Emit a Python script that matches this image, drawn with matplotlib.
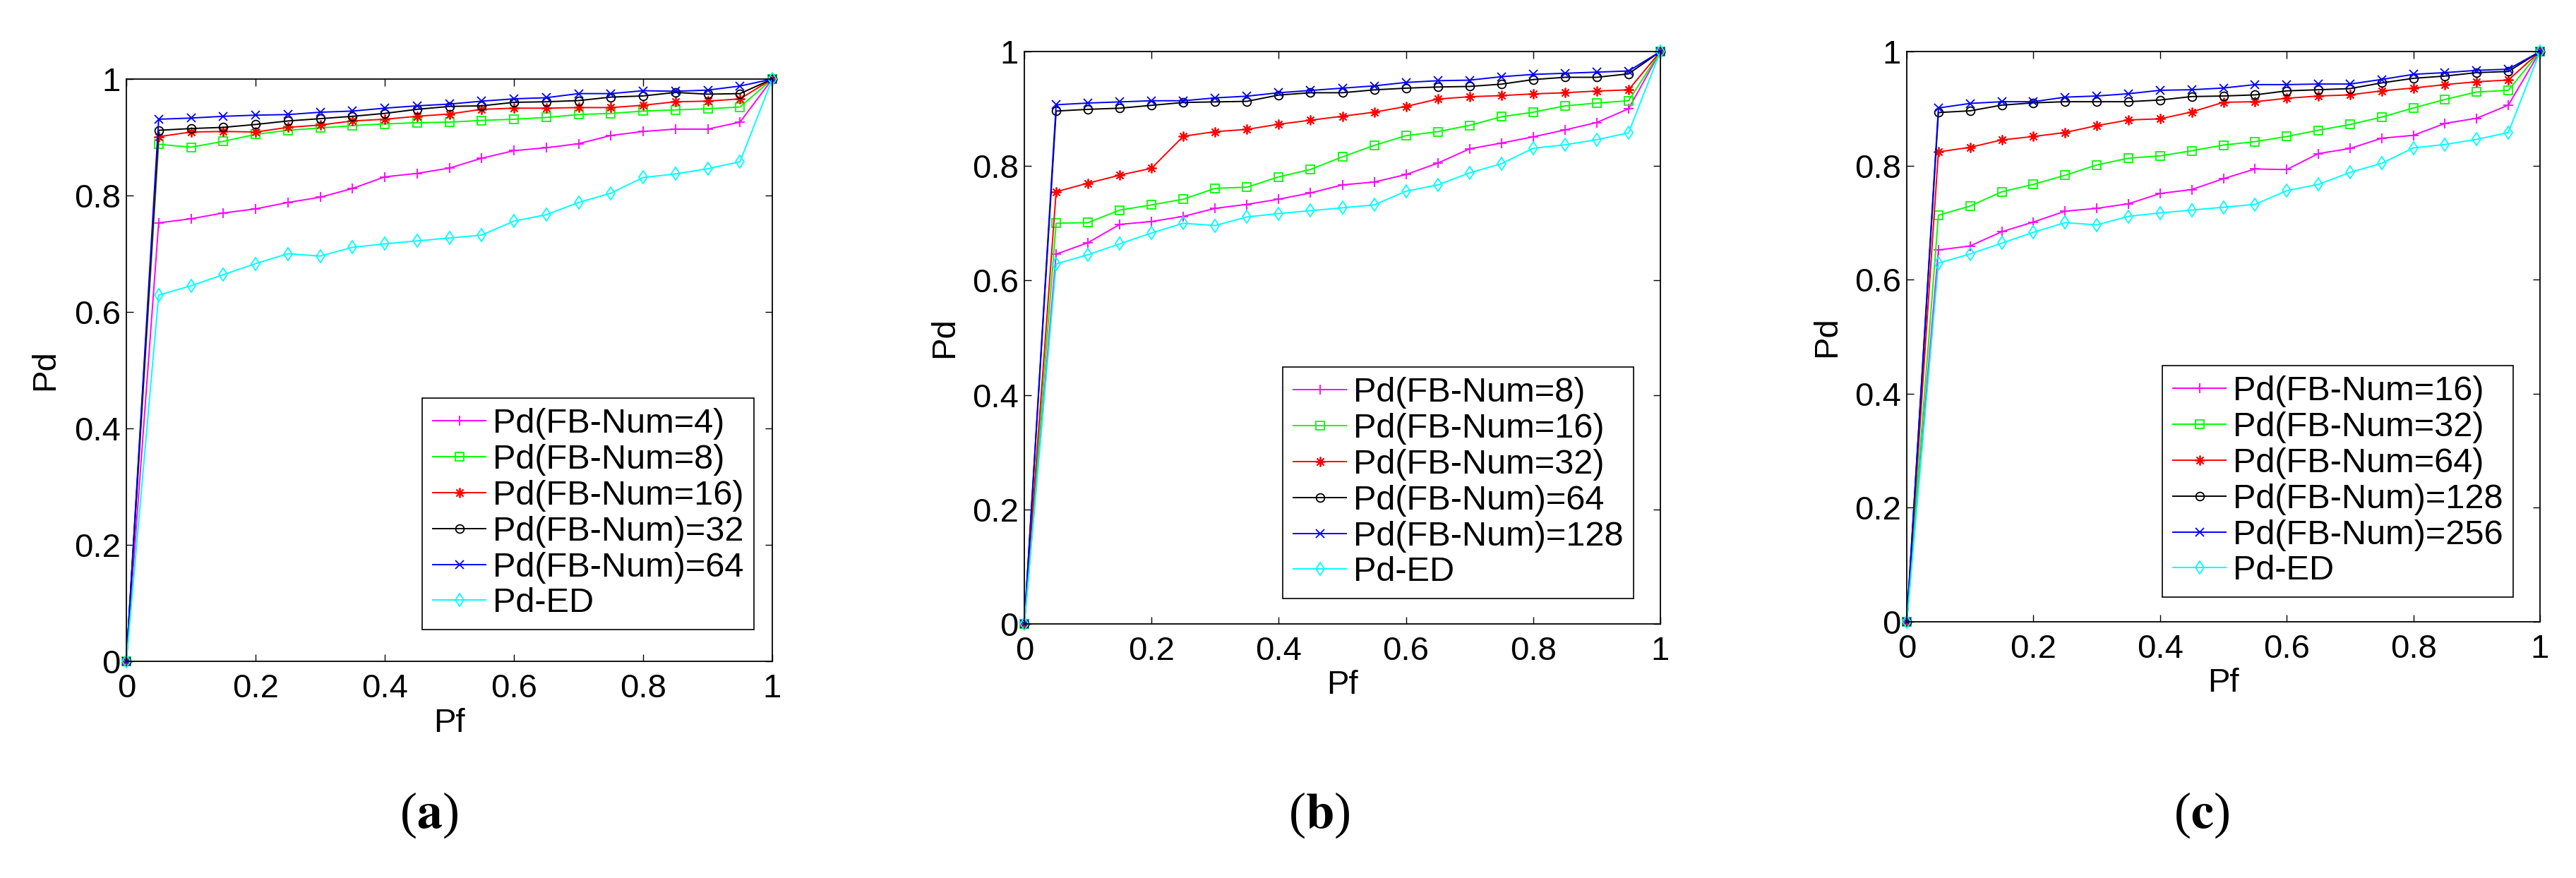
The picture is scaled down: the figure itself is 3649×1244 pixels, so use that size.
import matplotlib
matplotlib.use("Agg")
import matplotlib.pyplot as plt

plt.rcParams['font.family'] = ['Liberation Sans', 'DejaVu Sans']
plt.rcParams['mathtext.fontset'] = 'stix'

# ---------------- data ----------------
pf = [0.0, 0.05, 0.10, 0.15, 0.20, 0.25, 0.30, 0.35, 0.40, 0.45, 0.50,
      0.55, 0.60, 0.65, 0.70, 0.75, 0.80, 0.85, 0.90, 0.95, 1.0]

pd_ed = [0, 0.629, 0.645, 0.664, 0.683, 0.700, 0.696, 0.711, 0.717, 0.722, 0.727,
         0.732, 0.756, 0.767, 0.788, 0.804, 0.831, 0.837, 0.846, 0.858, 1]

# panel (a)
a_fb4 = [0, 0.753, 0.760, 0.770, 0.777, 0.788, 0.797, 0.812, 0.832, 0.838, 0.847,
         0.864, 0.877, 0.882, 0.889, 0.903, 0.910, 0.914, 0.914, 0.926, 1]
a_fb8 = [0, 0.888, 0.883, 0.893, 0.905, 0.912, 0.916, 0.920, 0.923, 0.925, 0.926,
         0.929, 0.931, 0.934, 0.939, 0.941, 0.945, 0.947, 0.949, 0.952, 1]
a_fb16 = [0, 0.901, 0.909, 0.910, 0.909, 0.917, 0.921, 0.928, 0.931, 0.936, 0.940,
          0.948, 0.950, 0.950, 0.951, 0.951, 0.955, 0.961, 0.962, 0.966, 1]
a_fb32 = [0, 0.912, 0.915, 0.917, 0.922, 0.928, 0.932, 0.936, 0.941, 0.948, 0.953,
          0.954, 0.960, 0.961, 0.963, 0.969, 0.971, 0.977, 0.974, 0.975, 1]
a_fb64 = [0, 0.931, 0.933, 0.936, 0.938, 0.939, 0.943, 0.945, 0.950, 0.954, 0.957,
          0.962, 0.966, 0.968, 0.975, 0.975, 0.980, 0.979, 0.981, 0.988, 1]
a_labels = ['Pd(FB-Num=4)', 'Pd(FB-Num=8)', 'Pd(FB-Num=16)',
            'Pd(FB-Num)=32', 'Pd(FB-Num)=64', 'Pd-ED']

# panel (b)
b_fb8 = [0, 0.646, 0.666, 0.698, 0.703, 0.712, 0.726, 0.733, 0.742, 0.753, 0.767,
         0.772, 0.785, 0.805, 0.830, 0.840, 0.851, 0.863, 0.876, 0.900, 1]
b_fb16 = [0, 0.700, 0.701, 0.723, 0.732, 0.742, 0.761, 0.763, 0.781, 0.794, 0.816,
          0.836, 0.853, 0.860, 0.871, 0.886, 0.894, 0.905, 0.910, 0.914, 1]
b_fb32 = [0, 0.755, 0.770, 0.784, 0.796, 0.852, 0.860, 0.864, 0.873, 0.880, 0.887,
          0.894, 0.904, 0.917, 0.921, 0.923, 0.926, 0.928, 0.931, 0.933, 1]
b_fb64 = [0, 0.896, 0.899, 0.901, 0.906, 0.911, 0.912, 0.913, 0.924, 0.928, 0.928,
          0.933, 0.936, 0.938, 0.939, 0.943, 0.951, 0.955, 0.955, 0.961, 1]
b_fb128 = [0, 0.907, 0.910, 0.912, 0.914, 0.914, 0.919, 0.922, 0.928, 0.932, 0.936,
           0.940, 0.946, 0.949, 0.950, 0.956, 0.960, 0.962, 0.964, 0.966, 1]
b_labels = ['Pd(FB-Num=8)', 'Pd(FB-Num=16)', 'Pd(FB-Num=32)',
            'Pd(FB-Num)=64', 'Pd(FB-Num)=128', 'Pd-ED']

# panel (c)
c_fb16 = [0, 0.652, 0.659, 0.684, 0.701, 0.720, 0.725, 0.733, 0.751, 0.758, 0.777,
          0.794, 0.793, 0.821, 0.830, 0.848, 0.853, 0.874, 0.883, 0.906, 1]
c_fb32 = [0, 0.713, 0.729, 0.754, 0.767, 0.783, 0.801, 0.813, 0.817, 0.826, 0.836,
          0.842, 0.851, 0.862, 0.872, 0.885, 0.901, 0.916, 0.929, 0.932, 1]
c_fb64 = [0, 0.824, 0.832, 0.845, 0.851, 0.858, 0.870, 0.880, 0.882, 0.894, 0.911,
          0.912, 0.918, 0.922, 0.924, 0.931, 0.936, 0.942, 0.947, 0.950, 1]
c_fb128 = [0, 0.893, 0.896, 0.906, 0.910, 0.912, 0.912, 0.912, 0.915, 0.921, 0.922,
           0.924, 0.931, 0.933, 0.935, 0.945, 0.953, 0.957, 0.963, 0.965, 1]
c_fb256 = [0, 0.901, 0.909, 0.912, 0.912, 0.920, 0.922, 0.926, 0.932, 0.933, 0.936,
           0.942, 0.942, 0.943, 0.943, 0.951, 0.960, 0.963, 0.967, 0.969, 1]
c_labels = ['Pd(FB-Num=16)', 'Pd(FB-Num=32)', 'Pd(FB-Num=64)',
            'Pd(FB-Num)=128', 'Pd(FB-Num)=256', 'Pd-ED']

captions = ['a', 'b', 'c']
ticks = [0, 0.2, 0.4, 0.6, 0.8, 1]
tick_labels = ['0', '0.2', '0.4', '0.6', '0.8', '1']

# ---------------- styles ----------------
colors = ['#FF00FF', '#00FF00', '#FF0000', '#000000', '#0000FF', '#00FFFF']
markers = ['+', 's', (8, 2, 0), 'o', 'x', 'd']
msizes = [10, 8.5, 10, 8.5, 8, 9.5]

W, H = 3649, 1244
fig = plt.figure(figsize=(W / 100, H / 100), dpi=100)

panels = [
    ([a_fb4, a_fb8, a_fb16, a_fb32, a_fb64, pd_ed], a_labels,
     (179, 112, 1094, 937), (0.9716, 0.0545)),
    ([b_fb8, b_fb16, b_fb32, b_fb64, b_fb128, pd_ed], b_labels,
     (1451, 73, 2352, 884), (0.958, 0.0444)),
    ([c_fb16, c_fb32, c_fb64, c_fb128, c_fb256, pd_ed], c_labels,
     (2701, 73, 3598, 881), (0.958, 0.0433)),
]
cap_x = [608, 1869, 3119]
cap_y = 1155

for i, (series, labels, (x0, y0, x1, y1), lanchor) in enumerate(panels):
    ax = fig.add_axes([x0 / W, 1 - y1 / H, (x1 - x0) / W, (y1 - y0) / H])
    for s, lab, col, mk, ms in zip(series, labels, colors, markers, msizes):
        ax.plot(pf, s, color=col, marker=mk, markersize=ms, markerfacecolor='none',
                markeredgecolor=col, markeredgewidth=1.3, linewidth=1.4, label=lab,
                clip_on=False)
    ax.set_xlim(0, 1)
    ax.set_ylim(0, 1)
    ax.set_xticks(ticks)
    ax.set_xticklabels(tick_labels)
    ax.set_yticks(ticks)
    ax.set_yticklabels(tick_labels)
    ax.tick_params(direction='in', top=True, right=True, length=7, width=1.0,
                   labelsize=34)
    ax.tick_params(axis='x', pad=12)
    ax.tick_params(axis='y', pad=6)
    for sp in ax.spines.values():
        sp.set_linewidth(1.3)
    ax.set_xlabel('Pf', fontsize=34)
    ax.set_ylabel('Pd', fontsize=34)
    ax.xaxis.set_label_coords(0.5, -0.08)
    ax.yaxis.set_label_coords(-0.101, 0.5)
    leg = ax.legend(loc='lower right', bbox_to_anchor=lanchor, fontsize=35,
                    frameon=True, fancybox=False, shadow=False, framealpha=1,
                    edgecolor='black', borderpad=0.3, labelspacing=0.12,
                    handlelength=1.55, handletextpad=0.2, borderaxespad=0)
    leg.get_frame().set_linewidth(1.2)
    leg.set_zorder(5)
    fig.text(cap_x[i] / W, 1 - cap_y / H, '($\\mathbf{%s}$)' % captions[i],
             fontsize=52, family='Liberation Serif', ha='center', va='center')

fig.savefig('out.png', dpi=100)
